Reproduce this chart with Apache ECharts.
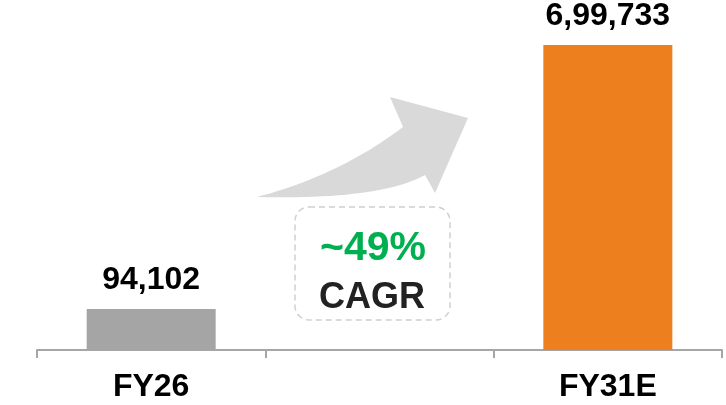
<!DOCTYPE html>
<html>
<head>
<meta charset="utf-8">
<script src="https://cdn.jsdelivr.net/npm/echarts@6/dist/echarts.min.js"></script>
<style>
html,body{margin:0;padding:0;background:#fff;}
#main{width:726px;height:405px;}
</style>
</head>
<body>
<div id="main"></div>
<script>
const categories = ['FY26', '', 'FY31E'];
const values = [94102, null, 699733];
const barColors = ['#a5a5a5', '#a5a5a5', '#ee7f1f'];
const cagrText = '~49%';
const cagrLabel = 'CAGR';

function fmtIndian(n) {
  const s = String(Math.round(n));
  if (s.length <= 3) return s;
  const last3 = s.slice(-3);
  let rest = s.slice(0, -3);
  const parts = [];
  while (rest.length > 2) { parts.unshift(rest.slice(-2)); rest = rest.slice(0, -2); }
  if (rest.length) parts.unshift(rest);
  return parts.join(',') + ',' + last3;
}

// decorative curved arrow outline
function quad(p0, c, p1, n) {
  const pts = [];
  for (let i = 0; i <= n; i++) {
    const t = i / n, u = 1 - t;
    pts.push([u * u * p0[0] + 2 * u * t * c[0] + t * t * p1[0],
              u * u * p0[1] + 2 * u * t * c[1] + t * t * p1[1]]);
  }
  return pts;
}
const arrowPts = [].concat(
  quad([257, 197], [340, 175], [403, 127], 24),
  [[390, 97], [468, 118], [435, 193]],
  quad([425, 175], [380, 200], [257, 197], 24)
);

const chart = echarts.init(document.getElementById('main'));
const FONT = 'Liberation Sans, Arial, sans-serif';
chart.setOption({
  animation: false,
  backgroundColor: '#fff',
  grid: { left: 37, right: 4, top: 45, bottom: 55 },
  xAxis: {
    type: 'category',
    data: categories,
    axisLine: { lineStyle: { color: '#a6a6a6', width: 2 } },
    axisTick: { show: true, length: 8, lineStyle: { color: '#a6a6a6', width: 2 } },
    axisLabel: {
      color: '#000', fontSize: 32, fontWeight: 'bold', fontFamily: FONT,
      margin: 21, lineHeight: 32
    }
  },
  yAxis: {
    type: 'value', min: 0, max: function (v) { return v.max; },
    show: false, splitLine: { show: false }
  },
  series: [{
    type: 'bar',
    data: values.map((v, i) => v == null ? '-' : { value: v, itemStyle: { color: barColors[i] } }),
    barWidth: 129,
    label: {
      show: true, position: 'top', distance: 13,
      color: '#000', fontSize: 32, fontWeight: 'bold', fontFamily: FONT, lineHeight: 32,
      formatter: p => fmtIndian(p.value)
    }
  }],
  graphic: [
    {
      type: 'polygon',
      shape: { points: arrowPts },
      style: { fill: '#d9d9d9' }
    },
    {
      type: 'rect',
      shape: { x: 295, y: 207, width: 155, height: 113, r: 14 },
      style: { fill: 'none', stroke: '#d0d0d0', lineWidth: 1.5, lineDash: [6, 4] }
    },
    {
      type: 'text', x: 373, y: 249,
      style: { text: cagrText, fill: '#00b050', font: 'bold 41px ' + FONT, align: 'center', verticalAlign: 'middle' }
    },
    {
      type: 'text', x: 372, y: 298,
      style: { text: cagrLabel, fill: '#222', font: 'bold 36px ' + FONT, align: 'center', verticalAlign: 'middle' }
    }
  ]
});
</script>
</body>
</html>
